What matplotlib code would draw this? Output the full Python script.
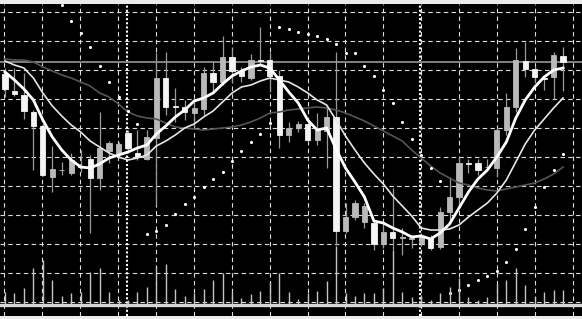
import matplotlib
matplotlib.use('Agg')
import matplotlib.pyplot as plt
import numpy as np

# Price data (one entry per candle, arbitrary price units)
opens = [246, 229, 225, 208, 194, 143, 150, 147, 154, 161, 142, 169, 166, 187, 167, 161, 182, 242, 214, 213,
         207, 211, 247, 238, 263, 249, 242, 260, 260, 244, 185, 192, 196, 180, 189, 203, 89, 103, 98, 97,
         76, 88, 82, 81, 77, 82, 73, 108, 123, 157, 157, 153, 152, 190, 213, 259, 251, 242, 243, 264]
highs = [252, 252, 247, 210, 196, 174, 158, 167, 170, 165, 208, 179, 178, 190, 190, 190, 268, 268, 232, 220,
         222, 253, 259, 284, 272, 253, 266, 293, 268, 250, 198, 199, 202, 207, 214, 268, 117, 120, 117, 100,
         98, 132, 92, 85, 87, 85, 113, 143, 163, 161, 161, 161, 192, 227, 272, 278, 254, 244, 268, 273]
lows = [223, 224, 201, 150, 144, 128, 145, 145, 148, 87, 130, 157, 162, 167, 160, 160, 115, 205, 198, 200,
        193, 205, 227, 235, 237, 238, 240, 255, 228, 172, 178, 188, 178, 175, 152, 75, 87, 100, 92, 70,
        72, 68, 65, 72, 75, 70, 71, 97, 113, 147, 145, 151, 143, 185, 208, 243, 238, 230, 221, 229]
closes = [231, 226, 209, 194, 145, 151, 150, 160, 153, 142, 172, 177, 176, 172, 163, 183, 242, 213, 213, 208,
          212, 247, 238, 263, 249, 244, 260, 259, 244, 185, 192, 196, 180, 190, 203, 89, 103, 117, 114, 76,
          88, 82, 83, 82, 83, 72, 108, 123, 157, 156, 150, 153, 190, 213, 260, 251, 243, 241, 265, 258]
volume = [12, 11, 16, 36, 44, 24, 8, 11, 12, 32, 36, 12, 4, 4, 12, 17, 38, 40, 15, 8,
          11, 15, 24, 31, 12, 6, 10, 13, 22, 31, 12, 5, 11, 13, 23, 58, 11, 8, 11, 11,
          16, 53, 12, 7, 9, 4, 11, 17, 26, 7, 4, 7, 20, 24, 36, 19, 7, 12, 14, 14]

# Indicator lines
ma_fast = [248, 240, 231, 220, 200, 183, 170, 160, 153, 152, 156, 162, 165, 168, 172, 175, 186, 194, 203, 210,
           219, 222, 227, 236, 244, 249, 253, 255, 252, 240, 228, 217, 200, 190, 192, 171, 152, 138, 123, 99,
           97, 92, 88, 83, 84, 81, 87, 96, 112, 128, 141, 150, 163, 178, 202, 220, 233, 243, 250, 252]
ma_slow = [259, 255, 252, 242, 227, 214, 204, 195, 188, 179, 173, 167, 163, 160, 162, 165, 174, 179, 185, 192,
           196, 203, 209, 218, 227, 233, 235, 239, 242, 240, 238, 233, 227, 220, 215, 200, 184, 170, 157, 146,
           136, 124, 114, 104, 92, 90, 90, 91, 95, 103, 110, 117, 127, 140, 158, 176, 190, 201, 212, 222]
ma_long = [261, 260, 260, 258, 253, 249, 245, 242, 238, 234, 227, 223, 216, 208, 204, 202, 201, 197, 193, 192,
           191, 190, 191, 192, 193, 195, 198, 202, 207, 208, 210, 211, 212, 213, 212, 210, 207, 203, 199, 194,
           189, 184, 179, 170, 162, 154, 147, 142, 137, 135, 132, 130, 129, 131, 133, 135, 137, 141, 146, 153]
nan = float('nan')
sar = [nan, nan, nan, nan, nan, nan, 315, 299, 287, 273, 254, 238, 223, 209, 196, 86, 89, 95, 106, 116,
       123, 133, 141, 148, 159, 169, 178, 186, 197, 293, 291, 288, 286, 284, 281, 276, 267, 267, 254, 244,
       230, 217, 198, 181, 165, 152, 139, 27, 30, 35, 40, 44, 49, 58, 71, 91, 113, 133, 150, 166]

level_line = 258           # solid horizontal line across the chart
separators = [12.9, 43.9]  # thick dotted period separators


def hide_frame(a):
  a.set_xticks([])
  a.set_yticks([])
  for s in a.spines.values():
    s.set_visible(False)


def create_chart():
  """Draws a black-background candlestick chart with moving averages, SAR dots and volume."""
  fig = plt.figure(figsize=(5.82, 3.19), dpi=100, facecolor='#e9ecef')
  ax = fig.add_axes([0, 3 / 319, 1, 312 / 319])
  ax.set_facecolor('black')

  x = np.arange(len(closes))
  o = np.array(opens)
  c = np.array(closes)
  up = c >= o

  # dashed grid
  for gy in np.arange(18, 309, 29):
    ax.axhline(gy, color='#dcdcdc', lw=0.8, ls=(0, (4, 3)), zorder=1)
  for gx in np.arange(16) * 4.01 - 0.1:
    ax.axvline(gx, color='#dcdcdc', lw=0.8, ls=(0, (4, 3)), zorder=1)
  for sx in separators:
    ax.axvline(sx, color='white', lw=1.5, ls=(0, (1, 1)), zorder=1)
  ax.axhline(level_line, color='#8c8c8c', lw=1.3, zorder=2)

  # candles: wicks then bodies (gray = up, white = down)
  ax.vlines(x, lows, highs, color='#9a9a9a', lw=0.9, zorder=3)
  body_colors = np.where(up, '#b9b9b9', '#f4f4f4')
  ax.bar(x, np.abs(c - o), bottom=np.minimum(o, c), width=0.55,
         color=body_colors, edgecolor=body_colors, linewidth=0.6, zorder=4)

  # moving averages
  ax.plot(x, ma_long, color='#555555', lw=1.2, zorder=5)
  ax.plot(x, ma_slow, color='#e6e6e6', lw=1.2, zorder=5)
  ax.plot(x, ma_fast, color='white', lw=2.0, zorder=6)

  # parabolic SAR
  ax.scatter(x, sar, s=5, color='white', zorder=7, linewidths=0)

  ax.set_xlim(-0.529, 61.0)
  ax.set_ylim(4, 316)
  hide_frame(ax)

  # volume on its own scale, baseline near the bottom
  ax2 = ax.twinx()
  ax2.vlines(x, 0, volume, color='#c4c4c4', lw=1.0)
  ax2.axhline(-0.5, color='#d6d6d6', lw=2.4)
  ax2.set_ylim(-12, 300)
  ax2.set_xlim(-0.529, 61.0)
  hide_frame(ax2)

  fig.savefig('out.png', dpi=100, facecolor=fig.get_facecolor())


create_chart()
